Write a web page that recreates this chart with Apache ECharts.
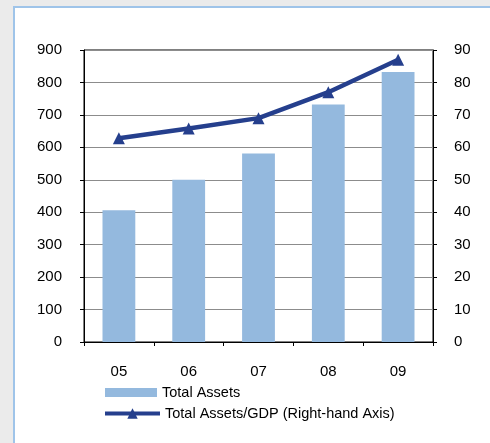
<!DOCTYPE html>
<html>
<head>
<meta charset="utf-8">
<script src="https://cdn.jsdelivr.net/npm/echarts@6/dist/echarts.min.js"></script>
<style>
  html, body { margin: 0; padding: 0; background: #ebebeb; }
  #chart { width: 490px; height: 443px; }
</style>
</head>
<body>
<div id="chart"></div>
<script>
// Years (20xx) on the category axis
const years = ['05', '06', '07', '08', '09'];
// Total assets (left axis)
const totalAssets = [406, 500, 581, 732, 832];
// Total assets as % of GDP (right axis)
const assetsToGdp = [62.8, 65.8, 69.0, 77.0, 87.0];

const leftTicks = { min: 0, max: 900, interval: 100 };
const rightTicks = { min: 0, max: 90, interval: 10 };

const FONT = '"Liberation Sans", Arial, sans-serif';
const chart = echarts.init(document.getElementById('chart'), null, { renderer: 'canvas' });

chart.setOption({
  backgroundColor: '#ebebeb',
  animation: false,
  graphic: [{
    type: 'rect',
    shape: { x: 14, y: 7, width: 500, height: 460 },
    style: { fill: '#ffffff', stroke: '#9fc4e9', lineWidth: 2 },
    z: -10
  }],
  grid: {
    left: 84, right: 57, top: 50, bottom: 101,
    show: true, borderColor: '#000000', borderWidth: 1,
    backgroundColor: 'transparent'
  },
  legend: [{
    data: [{ name: 'Total Assets', icon: 'rect' }],
    orient: 'vertical', left: 105, top: 385, padding: 0,
    itemWidth: 52, itemHeight: 9,
    textStyle: { fontFamily: FONT, fontSize: 14.5, color: '#000' }
  }, {
    data: ['Total Assets/GDP (Right-hand Axis)'],
    orient: 'vertical', left: 103, top: 406, padding: 0,
    itemWidth: 55, itemHeight: 13,
    lineStyle: { width: 4, color: '#253f8d' },
    textStyle: { fontFamily: FONT, fontSize: 14.5, color: '#000' }
  }],
  xAxis: {
    type: 'category',
    data: years,
    axisLine: { show: true, lineStyle: { color: '#000', width: 1 } },
    axisTick: { show: true, length: 4, inside: false, lineStyle: { color: '#000' } },
    axisLabel: { fontFamily: FONT, fontSize: 15, color: '#000', margin: 22 }
  },
  yAxis: [{
    type: 'value',
    min: leftTicks.min, max: leftTicks.max, interval: leftTicks.interval,
    axisLine: { show: true, lineStyle: { color: '#000' } },
    axisTick: { show: true, length: 4, lineStyle: { color: '#000' } },
    axisLabel: { fontFamily: FONT, fontSize: 15, color: '#000', margin: 22 },
    splitLine: { show: true, lineStyle: { color: '#8c8c8c', width: 1 } }
  }, {
    type: 'value',
    position: 'right',
    min: rightTicks.min, max: rightTicks.max, interval: rightTicks.interval,
    axisLine: { show: true, lineStyle: { color: '#000' } },
    axisTick: { show: true, length: 4, lineStyle: { color: '#000' } },
    axisLabel: { fontFamily: FONT, fontSize: 15, color: '#000', margin: 21 },
    splitLine: { show: false }
  }],
  series: [{
    name: 'Total Assets',
    type: 'bar',
    data: totalAssets,
    yAxisIndex: 0,
    barWidth: '47%',
    itemStyle: { color: '#94b9de' }
  }, {
    name: 'Total Assets/GDP (Right-hand Axis)',
    type: 'line',
    data: assetsToGdp,
    yAxisIndex: 1,
    symbol: 'triangle',
    symbolSize: 12,
    lineStyle: { color: '#253f8d', width: 4.5 },
    itemStyle: { color: '#253f8d' },
    z: 5
  }]
});
</script>
</body>
</html>
